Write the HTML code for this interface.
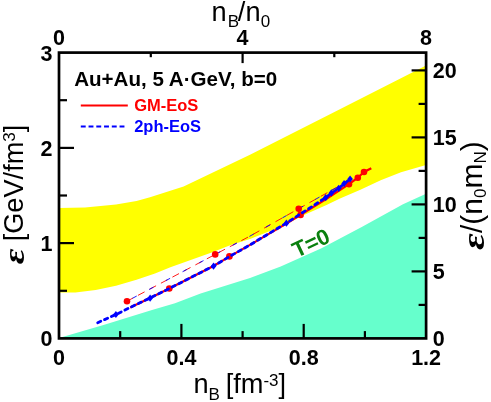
<!DOCTYPE html>
<html><head><meta charset="utf-8"><title>EoS plot</title>
<style>
html,body{margin:0;padding:0;background:#fff;}
body{width:491px;height:402px;overflow:hidden;position:relative;font-family:"Liberation Sans",sans-serif;}
</style></head><body>
<svg width="491" height="402" viewBox="0 0 491 402" style="position:absolute;left:0;top:0;will-change:transform;opacity:0.999">
<rect width="491" height="402" fill="#fff"/>
<polygon points="59.0,208.0 85.0,207.5 116.0,204.4 136.5,201.0 150.0,197.2 183.6,186.4 250.0,154.8 330.0,114.2 426.0,65.4 426.0,164.9 401.0,172.3 380.7,180.3 360.4,189.7 340.0,198.6 326.5,205.0 306.2,214.0 280.0,227.0 265.0,232.9 250.0,238.9 231.5,244.7 211.0,252.8 190.7,260.1 170.4,267.3 155.0,273.6 136.5,279.7 116.0,285.8 95.7,289.9 75.4,292.5 59.0,292.5" fill="#ffff00"/>
<polygon points="59.0,338.0 103.5,325.0 152.0,310.0 175.0,303.2 200.6,293.6 250.0,277.9 280.7,266.6 321.5,248.2 362.2,226.7 403.0,204.3 426.0,193.7 426.0,338.4 59.0,338.4" fill="#66ffcc"/>
<path d="M127.0 301.2 L150.0 289.0 L215.2 254.4 L250.0 236.1 L298.7 208.7 L335.7 188.0 L349.0 181.5" fill="none" stroke="#ff0000" stroke-width="0.9" stroke-dasharray="7.5 5.5" stroke-dashoffset="0.6"/>
<path d="M127.0 301.2 L150.0 289.0 L215.2 254.4 L250.0 236.1 L298.7 208.7 L335.7 188.0 L349.0 181.5" fill="none" stroke="#0000ff" stroke-width="0.9" stroke-dasharray="4.8 14.1" stroke-dashoffset="-6.2"/>
<path d="M130.2 307.5 L150.1 298.0 L169.3 288.5 L213.5 266.0 L229.4 256.6 L250.0 244.9 L286.4 223.6 L300.6 214.8 L325.7 199.4 L349.0 184.2 L357.8 177.7 L364.0 172.0 L371.3 168.2" fill="none" stroke="#ff0000" stroke-width="2.2"/>
<circle cx="127.0" cy="301.2" r="3.3" fill="#ff0000"/>
<circle cx="215.2" cy="254.4" r="3.3" fill="#ff0000"/>
<circle cx="298.7" cy="208.7" r="3.3" fill="#ff0000"/>
<circle cx="169.3" cy="288.5" r="3.3" fill="#ff0000"/>
<circle cx="229.4" cy="256.4" r="3.3" fill="#ff0000"/>
<circle cx="300.6" cy="214.9" r="3.3" fill="#ff0000"/>
<circle cx="349.0" cy="184.2" r="3.3" fill="#ff0000"/>
<circle cx="357.8" cy="177.7" r="3.3" fill="#ff0000"/>
<circle cx="364.0" cy="172.0" r="3.3" fill="#ff0000"/>
<path d="M97.7 322.7 L115.9 314.5 L131.4 306.9 L150.1 298.0 L169.3 288.5 L213.5 266.0 L229.4 256.6 L250.0 244.9 L286.4 223.0 L300.6 213.9 L325.7 197.6 L331.4 193.2 L338.7 188.3 L344.1 183.8 L350.1 179.0" fill="none" stroke="#0000ff" stroke-width="2.8" stroke-linecap="round" stroke-dasharray="3.4 4.1"/>
<path d="M113.1 314.5 l2.8 -3.6 l2.8 3.6 l-2.8 3.6 z" fill="#0000ff"/>
<path d="M147.3 298.2 l2.8 -3.6 l2.8 3.6 l-2.8 3.6 z" fill="#0000ff"/>
<path d="M210.7 266.2 l2.8 -3.6 l2.8 3.6 l-2.8 3.6 z" fill="#0000ff"/>
<path d="M283.6 223.2 l2.8 -3.6 l2.8 3.6 l-2.8 3.6 z" fill="#0000ff"/>
<path d="M322.9 197.6 l2.8 -3.6 l2.8 3.6 l-2.8 3.6 z" fill="#0000ff"/>
<path d="M328.6 192.9 l2.8 -3.6 l2.8 3.6 l-2.8 3.6 z" fill="#0000ff"/>
<path d="M335.9 188.3 l2.8 -3.6 l2.8 3.6 l-2.8 3.6 z" fill="#0000ff"/>
<path d="M341.3 183.6 l2.8 -3.6 l2.8 3.6 l-2.8 3.6 z" fill="#0000ff"/>
<path d="M347.3 179.0 l2.8 -3.6 l2.8 3.6 l-2.8 3.6 z" fill="#0000ff"/>
<rect x="59.0" y="52.6" width="367.1" height="285.8" fill="none" stroke="#000" stroke-width="2.7"/>
<line x1="59.0" y1="243.1" x2="74.0" y2="243.1" stroke="#000" stroke-width="2.2"/>
<line x1="59.0" y1="147.9" x2="74.0" y2="147.9" stroke="#000" stroke-width="2.2"/>
<line x1="59.0" y1="290.8" x2="67.0" y2="290.8" stroke="#000" stroke-width="2.2"/>
<line x1="59.0" y1="195.5" x2="67.0" y2="195.5" stroke="#000" stroke-width="2.2"/>
<line x1="59.0" y1="100.2" x2="67.0" y2="100.2" stroke="#000" stroke-width="2.2"/>
<line x1="181.4" y1="338.4" x2="181.4" y2="323.9" stroke="#000" stroke-width="2.2"/>
<line x1="303.7" y1="338.4" x2="303.7" y2="323.9" stroke="#000" stroke-width="2.2"/>
<line x1="120.2" y1="338.4" x2="120.2" y2="331.1" stroke="#000" stroke-width="2.2"/>
<line x1="242.6" y1="338.4" x2="242.6" y2="331.1" stroke="#000" stroke-width="2.2"/>
<line x1="364.9" y1="338.4" x2="364.9" y2="331.1" stroke="#000" stroke-width="2.2"/>
<line x1="426.1" y1="271.4" x2="411.6" y2="271.4" stroke="#000" stroke-width="2.2"/>
<line x1="426.1" y1="204.4" x2="411.6" y2="204.4" stroke="#000" stroke-width="2.2"/>
<line x1="426.1" y1="137.4" x2="411.6" y2="137.4" stroke="#000" stroke-width="2.2"/>
<line x1="426.1" y1="70.4" x2="411.6" y2="70.4" stroke="#000" stroke-width="2.2"/>
<line x1="426.1" y1="304.9" x2="418.6" y2="304.9" stroke="#000" stroke-width="2.2"/>
<line x1="426.1" y1="237.9" x2="418.6" y2="237.9" stroke="#000" stroke-width="2.2"/>
<line x1="426.1" y1="170.9" x2="418.6" y2="170.9" stroke="#000" stroke-width="2.2"/>
<line x1="426.1" y1="103.9" x2="418.6" y2="103.9" stroke="#000" stroke-width="2.2"/>
<line x1="242.6" y1="52.6" x2="242.6" y2="63.1" stroke="#000" stroke-width="2.2"/>
<line x1="150.8" y1="52.6" x2="150.8" y2="57.2" stroke="#000" stroke-width="2.2"/>
<line x1="334.3" y1="52.6" x2="334.3" y2="57.2" stroke="#000" stroke-width="2.2"/>
<line x1="80.8" y1="105.5" x2="127.8" y2="105.5" stroke="#ff0000" stroke-width="1.9"/>
<line x1="80.8" y1="126.4" x2="126" y2="126.4" stroke="#0000ff" stroke-width="2" stroke-dasharray="4.9 2.85"/>
<text x="59.0" y="364.6" font-family="Liberation Sans, sans-serif" font-size="21.5" font-weight="bold" text-anchor="middle" fill="#000" >0</text>
<text x="181.4" y="364.6" font-family="Liberation Sans, sans-serif" font-size="21.5" font-weight="bold" text-anchor="middle" fill="#000" >0.4</text>
<text x="303.7" y="364.6" font-family="Liberation Sans, sans-serif" font-size="21.5" font-weight="bold" text-anchor="middle" fill="#000" >0.8</text>
<text x="426.1" y="364.6" font-family="Liberation Sans, sans-serif" font-size="21.5" font-weight="bold" text-anchor="middle" fill="#000" >1.2</text>
<text x="59.0" y="44.6" font-family="Liberation Sans, sans-serif" font-size="21.5" font-weight="bold" text-anchor="middle" fill="#000" >0</text>
<text x="242.6" y="44.6" font-family="Liberation Sans, sans-serif" font-size="21.5" font-weight="bold" text-anchor="middle" fill="#000" >4</text>
<text x="426.1" y="44.6" font-family="Liberation Sans, sans-serif" font-size="21.5" font-weight="bold" text-anchor="middle" fill="#000" >8</text>
<text x="52.4" y="346.0" font-family="Liberation Sans, sans-serif" font-size="21.5" font-weight="bold" text-anchor="end" fill="#000" >0</text>
<text x="52.4" y="250.7" font-family="Liberation Sans, sans-serif" font-size="21.5" font-weight="bold" text-anchor="end" fill="#000" >1</text>
<text x="52.4" y="155.5" font-family="Liberation Sans, sans-serif" font-size="21.5" font-weight="bold" text-anchor="end" fill="#000" >2</text>
<text x="52.4" y="61.4" font-family="Liberation Sans, sans-serif" font-size="21.5" font-weight="bold" text-anchor="end" fill="#000" >3</text>
<text x="432.8" y="345.9" font-family="Liberation Sans, sans-serif" font-size="21.5" font-weight="bold" text-anchor="start" fill="#000" >0</text>
<text x="432.8" y="278.9" font-family="Liberation Sans, sans-serif" font-size="21.5" font-weight="bold" text-anchor="start" fill="#000" >5</text>
<text x="432.8" y="211.9" font-family="Liberation Sans, sans-serif" font-size="21.5" font-weight="bold" text-anchor="start" fill="#000" >10</text>
<text x="432.8" y="144.9" font-family="Liberation Sans, sans-serif" font-size="21.5" font-weight="bold" text-anchor="start" fill="#000" >15</text>
<text x="432.8" y="77.9" font-family="Liberation Sans, sans-serif" font-size="21.5" font-weight="bold" text-anchor="start" fill="#000" >20</text>
<text x="74.2" y="85.7" font-family="Liberation Sans, sans-serif" font-size="20" font-weight="bold" text-anchor="start" fill="#000" textLength="203" lengthAdjust="spacingAndGlyphs">Au+Au, 5 A·GeV, b=0</text>
<text x="134.2" y="111.3" font-family="Liberation Sans, sans-serif" font-size="16.5" font-weight="bold" text-anchor="start" fill="#ff0000" >GM-EoS</text>
<text x="134.2" y="132.2" font-family="Liberation Sans, sans-serif" font-size="16.5" font-weight="bold" text-anchor="start" fill="#0000ff" >2ph-EoS</text>
<text transform="translate(310.9,242.8) rotate(-25.3)" x="0" y="7.8" font-family="Liberation Sans, sans-serif" font-size="22" font-weight="bold" text-anchor="middle" fill="#0a800f">T=0</text>
<text x="211.5" y="20.7" font-family="Liberation Sans, sans-serif" font-size="27.2" fill="#000">n<tspan font-size="17.0" dy="6.4" dx="1">B</tspan><tspan dy="-6.4" dx="-1.3">/</tspan><tspan dx="0.2">n</tspan><tspan font-size="17.0" dy="6.4" dx="0.3">0</tspan></text>
<text x="193.4" y="392.7" font-family="Liberation Sans, sans-serif" font-size="27.2" fill="#000">n<tspan font-size="17.0" dy="6.8">B</tspan><tspan dy="-6.8" dx="5.8">[fm</tspan><tspan font-size="17.0" dy="-7.2">-3</tspan><tspan dy="7.2">]</tspan></text>
<text transform="translate(23.3,264) rotate(-90)" font-family="Liberation Sans, sans-serif" font-size="27.2" fill="#000"><tspan x="22.67" y="0" font-size="27.2">[GeV/fm</tspan><tspan font-size="17.0" dy="-8.7">3</tspan><tspan dy="8.7">]</tspan></text>
<text transform="translate(23.90,264.00) rotate(-90) translate(-0.35,0) scale(1.290,1)" font-size="29.6" font-family="Liberation Serif, serif" font-weight="bold" font-style="italic" fill="#000">ε</text>
<text transform="translate(482.3,250) rotate(-90)" font-family="Liberation Sans, sans-serif" font-size="30" fill="#000"><tspan x="17.00" y="0" font-size="30">/(n</tspan><tspan font-size="17.0" dy="3.8">0</tspan><tspan dy="-3.8">m</tspan><tspan font-size="17.0" dy="3.8">N</tspan><tspan dy="-3.8">)</tspan></text>
<text transform="translate(483.50,250.00) rotate(-90) translate(-0.08,0) scale(1.290,1)" font-size="31.66764705882353" font-family="Liberation Serif, serif" font-weight="bold" font-style="italic" fill="#000">ε</text>
</svg>
</body></html>
